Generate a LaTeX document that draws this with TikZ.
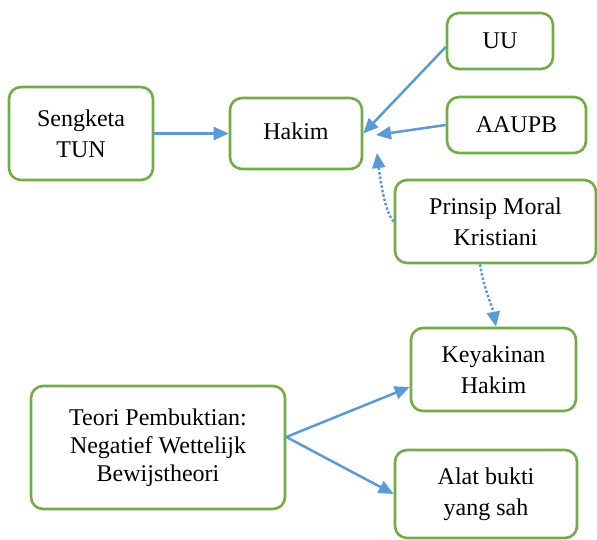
\documentclass[tikz,border=0pt]{standalone}
\usepackage{fontspec}
\setmainfont{Liberation Serif}
\newfontfamily\tnrfont{Liberation Serif}
\usetikzlibrary{arrows.meta}
\definecolor{boxgreen}{HTML}{70AD47}
\definecolor{arrblue}{HTML}{5B9BD5}
\begin{document}
\begin{tikzpicture}[x=1pt,y=-1pt,
  box/.style={draw=boxgreen, line width=2.6pt, rounded corners=12pt, fill=white,
    align=center, inner sep=0pt, font=\tnrfont\fontsize{24}{31}\selectfont},
  conn/.style={draw=arrblue, line width=2.5pt, -{Triangle[length=15pt,width=13pt]}},
  dotconn/.style={conn, dash pattern=on 2.5pt off 2pt},
]
\useasboundingbox (0,0) rectangle (597,540);
\node[box, minimum width=144pt, minimum height=93pt] (sengketa) at (81,133.5) {Sengketa\\TUN};
\node[box, minimum width=132pt, minimum height=71pt] (hakim) at (296,133.5) {\raisebox{5pt}{Hakim}};
\node[box, minimum width=106pt, minimum height=56pt] (uu) at (500,41) {UU};
\node[box, minimum width=139pt, minimum height=56pt] (aaupb) at (516.5,125) {AAUPB};
\node[box, minimum width=201pt, minimum height=83pt] (prinsip) at (495.5,221.5) {Prinsip Moral\\Kristiani};
\node[box, minimum width=165pt, minimum height=83pt] (keyakinan) at (493.5,369.5) {Keyakinan\\Hakim};
\node[box, minimum width=182pt, minimum height=88pt] (alat) at (486,494) {Alat bukti\\yang sah};
\node[box, minimum width=254pt, minimum height=123pt, font=\tnrfont\fontsize{24}{28}\selectfont] (teori) at (158,447.5) {Teori Pembuktian:\\Negatief Wettelijk\\Bewijstheori};

\coordinate (aaupbEnd) at (376,135);
\coordinate (dotEnd) at (377,153);

\draw[conn] (sengketa.east) -- (hakim.west);
\draw[conn] ([yshift=-6pt]uu.west) -- (hakim.east);
\draw[conn] (aaupb.west) -- (aaupbEnd);
\draw[dotconn] (prinsip.west) .. controls (386,214) and (381,186) .. (dotEnd);
\draw[dotconn] ([xshift=-15.5pt]prinsip.south) .. controls (484,290) and (492,305) .. ([xshift=2.5pt]keyakinan.north);
\draw[conn] ([yshift=10.5pt]teori.east) -- ([yshift=-17.5pt]keyakinan.west);
\draw[conn] ([yshift=10.5pt]teori.east) -- (alat.west);
\end{tikzpicture}
\end{document}
